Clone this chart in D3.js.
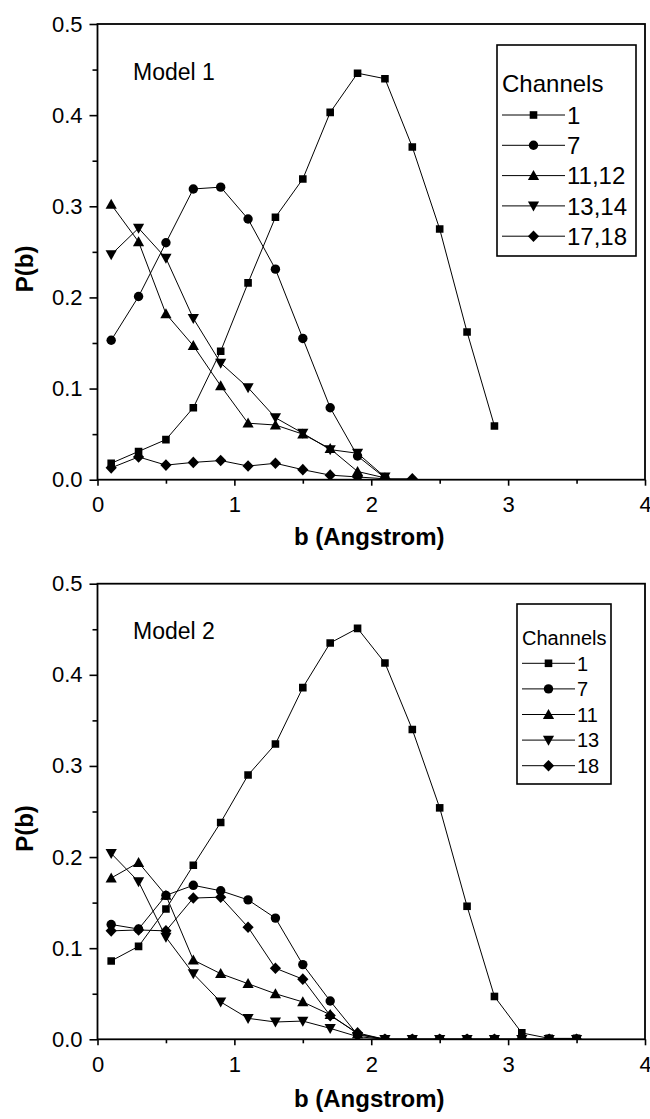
<!DOCTYPE html>
<html>
<head>
<meta charset="utf-8">
<script src="https://cdn.jsdelivr.net/npm/d3@7"></script>
<style>
  html, body { margin: 0; padding: 0; background: #fff; }
  svg { display: block; font-family: "Liberation Sans", Arial, sans-serif; }
</style>
</head>
<body>
<svg id="chart" width="650" height="1119"></svg>
<script>
// impact parameter b (Angstrom), shared by all series
const bValues = [0.1, 0.3, 0.5, 0.7, 0.9, 1.1, 1.3, 1.5, 1.7, 1.9, 2.1, 2.3, 2.5, 2.7, 2.9, 3.1, 3.3, 3.5];

// Model 1
const model1Labels = ["1", "7", "11,12", "13,14", "17,18"];
const m1ch1 = [0.018, 0.031, 0.044, 0.079, 0.141, 0.216, 0.288, 0.330, 0.403, 0.446, 0.440, 0.365, 0.275, 0.162, 0.059];
const m1ch7 = [0.153, 0.201, 0.260, 0.319, 0.321, 0.286, 0.231, 0.155, 0.079, 0.026, 0.002];
const m1ch11 = [0.302, 0.261, 0.182, 0.147, 0.103, 0.062, 0.060, 0.050, 0.034, 0.009, 0.002];
const m1ch13 = [0.247, 0.276, 0.243, 0.177, 0.128, 0.101, 0.068, 0.051, 0.033, 0.029, 0.003];
const m1ch17 = [0.013, 0.025, 0.016, 0.019, 0.021, 0.015, 0.018, 0.011, 0.005, 0.003, 0.001, 0.001];

// Model 2
const model2Labels = ["1", "7", "11", "13", "18"];
const m2ch1 = [0.086, 0.102, 0.143, 0.191, 0.238, 0.290, 0.324, 0.386, 0.435, 0.451, 0.413, 0.340, 0.254, 0.146, 0.047, 0.007, 0.001, 0.001];
const m2ch7 = [0.126, 0.121, 0.158, 0.169, 0.163, 0.153, 0.133, 0.082, 0.042, 0.005, 0, 0, 0, 0, 0, 0, 0, 0];
const m2ch11 = [0.177, 0.194, 0.158, 0.087, 0.072, 0.061, 0.050, 0.041, 0.027, 0.006, 0, 0, 0, 0, 0, 0, 0, 0];
const m2ch13 = [0.204, 0.173, 0.112, 0.072, 0.041, 0.023, 0.019, 0.020, 0.012, 0.003, 0, 0, 0, 0, 0, 0, 0, 0];
const m2ch18 = [0.119, 0.120, 0.119, 0.155, 0.156, 0.123, 0.078, 0.066, 0.026, 0.007, 0, 0, 0, 0, 0, 0, 0, 0];

const xTicks = [0, 1, 2, 3, 4];
const xMinor = [0.5, 1.5, 2.5, 3.5];
const yTicks = [0, 0.1, 0.2, 0.3, 0.4, 0.5];
const yMinor = [0.05, 0.15, 0.25, 0.35, 0.45];

const shapes = ["square", "circle", "up", "down", "diamond"];

function symbolPath(shape) {
    switch (shape) {
        case "square": return "M-3.8,-3.8H3.8V3.8H-3.8Z";
        case "circle": return "M-4.7,0A4.7,4.7 0 1,0 4.7,0A4.7,4.7 0 1,0 -4.7,0Z";
        case "up": return "M0,-5.6L5.6,4.4H-5.6Z";
        case "down": return "M0,5.6L5.6,-4.4H-5.6Z";
        default: return "M0,-5.8L5.6,0L0,5.8L-5.6,0Z";
    }
}

const svg = d3.select("#chart");
const left = 97.5, right = 645;

function drawPanel(top, bottom, series, labels, opts) {
    const x = d3.scaleLinear().domain([0, 4]).range([left, right]);
    const y = d3.scaleLinear().domain([0, 0.5]).range([bottom, top]);
    const g = svg.append("g");

    const clipId = "clip" + Math.round(top);
    g.append("clipPath").attr("id", clipId)
        .append("rect")
        .attr("x", left).attr("y", top)
        .attr("width", right - left).attr("height", bottom - top);

    // axes
    const ax = g.append("g").attr("transform", `translate(0,${bottom})`)
        .call(d3.axisBottom(x).tickValues(xTicks).tickSize(6).tickPadding(11).tickFormat(d3.format("d")));
    g.append("g").attr("transform", `translate(0,${bottom})`)
        .call(d3.axisBottom(x).tickValues(xMinor).tickSize(4).tickFormat(""));
    const ay = g.append("g").attr("transform", `translate(${left},0)`)
        .call(d3.axisLeft(y).tickValues(yTicks).tickSize(8).tickPadding(7).tickFormat(d3.format(".1f")));
    g.append("g").attr("transform", `translate(${left},0)`)
        .call(d3.axisLeft(y).tickValues(yMinor).tickSize(5).tickFormat(""));
    g.selectAll(".domain").remove();
    g.selectAll(".tick line").attr("stroke", "#000").attr("stroke-width", 1.6);
    g.selectAll(".tick text").attr("fill", "#000").style("font-size", "22px")
        .style("font-family", "'Liberation Sans', Arial, sans-serif");

    g.append("rect")
        .attr("x", left).attr("y", top)
        .attr("width", right - left).attr("height", bottom - top)
        .attr("fill", "none").attr("stroke", "#000").attr("stroke-width", 1.8);

    // series
    const line = d3.line().x((d) => x(d[0])).y((d) => y(d[1]));
    const data = g.append("g").attr("clip-path", `url(#${clipId})`);
    series.forEach((vals, i) => {
        const pts = vals.map((v, j) => [bValues[j], v]);
        data.append("path")
            .attr("d", line(pts))
            .attr("fill", "none").attr("stroke", "#000").attr("stroke-width", 1);
        data.selectAll(null)
            .data(pts)
            .enter()
            .append("path")
            .attr("transform", (d) => `translate(${x(d[0])},${y(d[1])})`)
            .attr("d", symbolPath(shapes[i]))
            .attr("fill", "#000");
    });

    // titles
    g.append("text")
        .attr("x", 133).attr("y", opts.modelY)
        .style("font-size", "23px")
        .text(opts.model);
    g.append("text")
        .attr("transform", `translate(33,${(top + bottom) / 2 + 17}) rotate(-90)`)
        .attr("text-anchor", "middle")
        .style("font-size", "24px").style("font-weight", "bold")
        .text("P(b)");
    g.append("text")
        .attr("x", (left + right) / 2 - 2).attr("y", bottom + opts.xTitleDy)
        .attr("text-anchor", "middle")
        .style("font-size", "24px").style("font-weight", "bold")
        .text("b (Angstrom)");

    // legend
    const lg = opts.legend;
    const leg = g.append("g");
    leg.append("rect")
        .attr("x", lg.x0).attr("y", lg.y0)
        .attr("width", lg.x1 - lg.x0).attr("height", lg.y1 - lg.y0)
        .attr("fill", "#fff").attr("stroke", "#000").attr("stroke-width", 1.6);
    leg.append("text")
        .attr("x", lg.x0 + 5).attr("y", lg.titleY)
        .style("font-size", lg.font + "px")
        .text("Channels");
    labels.forEach((lab, i) => {
        const cy = lg.rowY + i * lg.step;
        leg.append("line")
            .attr("x1", lg.x0 + 5).attr("x2", lg.lineEnd)
            .attr("y1", cy).attr("y2", cy)
            .attr("stroke", "#000").attr("stroke-width", 1);
        leg.append("path")
            .attr("transform", `translate(${(lg.x0 + 5 + lg.lineEnd) / 2},${cy})`)
            .attr("d", symbolPath(shapes[i]))
            .attr("fill", "#000");
        leg.append("text")
            .attr("x", lg.lineEnd + 2).attr("y", cy)
            .attr("dy", "0.36em")
            .style("font-size", lg.font + "px")
            .text(lab);
    });
}

drawPanel(24, 479.7, [m1ch1, m1ch7, m1ch11, m1ch13, m1ch17], model1Labels, {
    model: "Model 1", modelY: 80, xTitleDy: 65,
    legend: { x0: 497, x1: 636, y0: 45, y1: 256, titleY: 92, rowY: 115, step: 30.3, lineEnd: 565, font: 24 }
});

drawPanel(583.7, 1039.3, [m2ch1, m2ch7, m2ch11, m2ch13, m2ch18], model2Labels, {
    model: "Model 2", modelY: 639, xTitleDy: 68,
    legend: { x0: 517, x1: 611, y0: 604, y1: 784, titleY: 645, rowY: 663.3, step: 25.6, lineEnd: 575, font: 20 }
});
</script>
</body>
</html>
